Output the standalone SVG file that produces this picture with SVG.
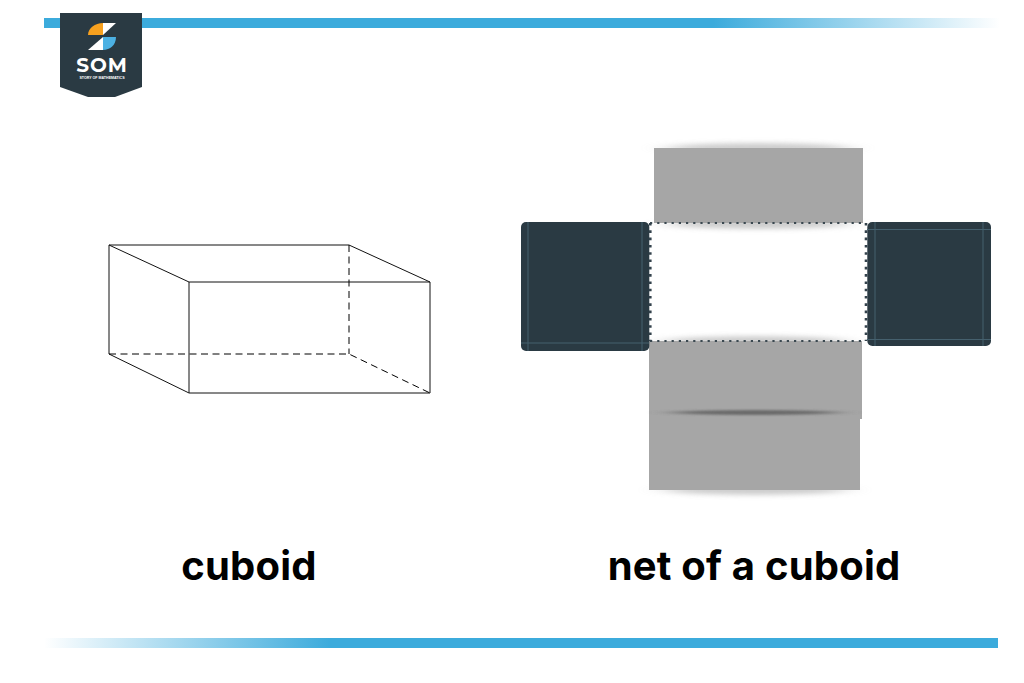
<svg xmlns="http://www.w3.org/2000/svg" width="1024" height="683" viewBox="0 0 1024 683">
<style>
.e{fill:none;stroke:#111;stroke-width:1}
.d{stroke:#000;stroke-dasharray:7 4.5}
.g{fill:#a6a6a6}
.n{fill:#2a3a43}
.l{fill:none;stroke:#45606e;stroke-width:1}
.p{fill:none;stroke:#3a4850;stroke-width:2;stroke-dasharray:2.2 5}
.q{fill:none;stroke:#33424c;stroke-width:2.6;stroke-dasharray:2.6 4.7}
.t{font-family:"Inter","Liberation Sans",sans-serif;font-weight:700;fill:#000;letter-spacing:.2px}
.s{fill:#aaa;opacity:.6}
</style>
<defs>
<linearGradient id="gt" x1="0" x2="1" y1="0" y2="0"><stop offset="0.7" stop-color="#3cabdc"/><stop offset="1" stop-color="#3cabdc" stop-opacity="0"/></linearGradient>
<linearGradient id="gb" x1="0" x2="1" y1="0" y2="0"><stop offset="0" stop-color="#3cabdc" stop-opacity="0"/><stop offset="0.3" stop-color="#3cabdc"/></linearGradient>
<filter id="b3" x="-30%" y="-400%" width="160%" height="900%"><feGaussianBlur stdDeviation="14 2.6"/></filter>
<filter id="b2" x="-30%" y="-400%" width="160%" height="900%"><feGaussianBlur stdDeviation="14 1.2"/></filter>
</defs>
<g id="bands">
<rect x="44" y="18" width="956" height="10" fill="url(#gt)"/>
<rect x="44" y="638" width="954" height="10" fill="url(#gb)"/>
</g>
<g id="logo">
<path d="M60 13H142V87L115 97H88L60 87Z" fill="#2a3a43"/>
<path d="M88 35C88 28 95 23 103 23V35Z" fill="#f7a11f"/>
<path d="M103 23H116L103 35Z" fill="#fff"/>
<path d="M88 50L103 37V50Z" fill="#fff"/>
<path d="M103 37H116C116 45 110 50 103 50Z" fill="#4cb1e3"/>
<text x="102" y="72" text-anchor="middle" font-family="Montserrat,'Open Sans','Liberation Sans',sans-serif" font-size="20" font-weight="700" letter-spacing="1" fill="#fff">SOM</text>
<text x="102" y="79" text-anchor="middle" font-family="'Liberation Sans',sans-serif" font-size="3.6" font-weight="700" fill="#fff">STORY OF MATHEMATICS</text>
</g>
<g id="cuboid">
<path class="e" d="M109 245H349L430 282V393H189L109 354ZM109 245L189 282H430M189 282V393"/>
<path class="e d" d="M349 245V354M109 354H349L430 393"/>
</g>
<g id="net">
<ellipse class="s" cx="758" cy="148" rx="90" ry="5" filter="url(#b3)"/>
<ellipse class="s" cx="758" cy="224" rx="90" ry="5" filter="url(#b3)"/>
<ellipse class="s" cx="755" cy="341" rx="90" ry="5" filter="url(#b3)"/>
<ellipse class="s" cx="755" cy="490" rx="90" ry="5" filter="url(#b3)"/>
<rect class="g" x="654" y="148" width="209" height="75"/>
<rect class="g" x="649" y="341" width="213" height="78"/>
<rect class="g" x="649" y="413" width="211" height="77"/>
<ellipse cx="755" cy="412.500" rx="82" ry="2.400" fill="#5c5c5c" opacity=".8" filter="url(#b2)"/>
<rect class="n" x="521" y="222" width="128.300" height="129" rx="5"/>
<path class="l" d="M528 222V351M642 222V351M521 343H649"/>
<rect class="n" x="867.300" y="222" width="123.700" height="124" rx="5"/>
<path class="l" d="M875 222V346M983 222V346M867 229.500H991M867 339.500H991"/>
<path class="p" d="M650 223H866M650 341H862"/>
<path class="q" d="M650.300 223V341M866 223V341"/>
</g>
<g id="labels">
<text class="t" x="249" y="580" font-size="40" text-anchor="middle">cuboid</text>
<text class="t" x="754" y="580" font-size="40" text-anchor="middle">net of a cuboid</text>
</g>
</svg>
